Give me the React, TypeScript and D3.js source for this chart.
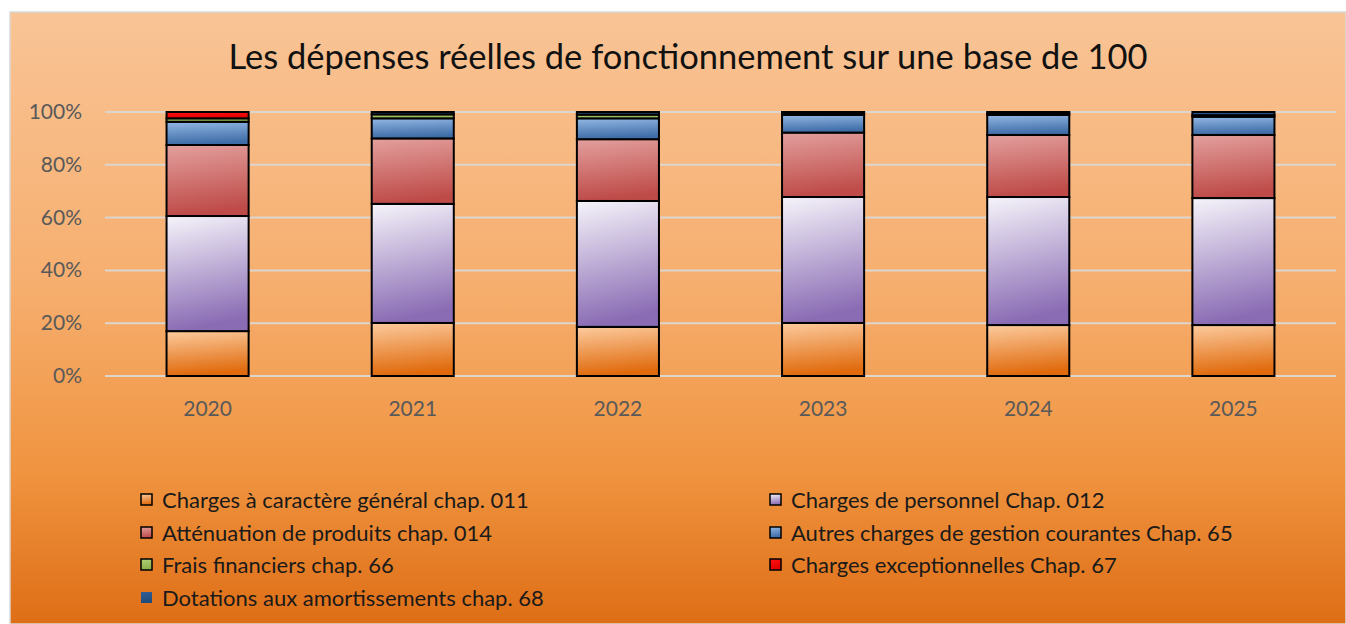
import React from "react";
import * as d3 from "d3";

const years = ["2020", "2021", "2022", "2023", "2024", "2025"];
const chap011 = [17.0, 20.1, 18.6, 20.1, 19.3, 19.3];
const chap012 = [43.6, 45.1, 47.7, 47.7, 48.5, 48.1];
const chap014 = [26.9, 24.8, 23.4, 24.4, 23.5, 23.9];
const chap65 = [8.8, 7.6, 7.9, 6.7, 7.6, 6.9];
const chap66 = [1.3, 1.5, 1.4, 0.7, 0.6, 0.6];
const chap67 = [2.4, 0, 0, 0, 0, 0];
const chap68 = [0, 0.9, 1.0, 0.4, 0.5, 1.2];
const yTicks = [0, 0.2, 0.4, 0.6, 0.8, 1.0];

const seriesKeys = ["c011", "c012", "c014", "c65", "c66", "c67", "c68"];
const seriesLabels = [
  "Charges à caractère général chap. 011",
  "Charges de personnel Chap. 012",
  "Atténuation de produits chap. 014",
  "Autres charges de gestion courantes Chap. 65",
  "Frais financiers chap. 66",
  "Charges exceptionnelles Chap. 67",
  "Dotations aux amortissements chap. 68",
];
const seriesGrad: [string, string][] = [
  ["#FCCB9E", "#E06A0C"],
  ["#F6F4FA", "#8A6CB4"],
  ["#E3A09E", "#BE4B48"],
  ["#93B8E4", "#3D6BA6"],
  ["#B4D07A", "#8AAE48"],
  ["#FF1010", "#E00000"],
  ["#2F5E96", "#1F4A7C"],
];

const W = 1346;
const H = 624;

export default function App() {
  const table = years.map((y, i) => ({
    year: y,
    c011: chap011[i],
    c012: chap012[i],
    c014: chap014[i],
    c65: chap65[i],
    c66: chap66[i],
    c67: chap67[i],
    c68: chap68[i],
  }));
  const stack = d3.stack<any>().keys(seriesKeys).offset(d3.stackOffsetExpand);
  const stacked = stack(table);

  const x = d3.scaleBand().domain(years).range([105, 1336]).paddingInner(0.6).paddingOuter(0.3);
  const y = d3.scaleLinear().domain([0, 1]).range([376, 112]);
  const pct = d3.format(".0%");

  const legendPos = [
    [141, 500],
    [770, 500],
    [141, 533],
    [770, 533],
    [141, 565],
    [770, 565],
    [141, 598],
  ];
  const font = "Lato, 'Open Sans', sans-serif";

  return (
    <svg width={W} height={H} style={{ position: "absolute", left: 0, top: 0 }} fontFamily={font}>
      <defs>
        <linearGradient id="bg" x1="0" y1="0" x2="0" y2="1">
          <stop offset="0" stopColor="#F9C496" />
          <stop offset="0.45" stopColor="#F6AE6E" />
          <stop offset="0.75" stopColor="#F09440" />
          <stop offset="1" stopColor="#DE6E16" />
        </linearGradient>
        {seriesGrad.map((g, i) => (
          <linearGradient key={i} id={`g${i}`} x1="0" y1="0" x2="0.15" y2="1">
            <stop offset="0" stopColor={g[0]} />
            <stop offset="1" stopColor={g[1]} />
          </linearGradient>
        ))}
      </defs>
      <rect x={0} y={0} width={W} height={H} fill="#ffffff" />
      <rect x={10} y={12} width={W - 10} height={H - 12} fill="url(#bg)" stroke="#D9D9D9" strokeWidth={1.5} />
      <text x={688} y={69} textAnchor="middle" fontSize={34.5} fill="#111">
        Les dépenses réelles de fonctionnement sur une base de 100
      </text>
      {yTicks.map((t) => (
        <g key={t}>
          <line x1={105} x2={1336} y1={y(t)} y2={y(t)} stroke="#DCD6CF" strokeWidth={2} />
          <text x={82} y={y(t) + 7} textAnchor="end" fontSize={21} fill="#595959">
            {pct(t)}
          </text>
        </g>
      ))}
      {stacked.map((s, si) => (
        <g key={s.key}>
          {s.map((d, i) => {
            const h = y(d[0]) - y(d[1]);
            if (h <= 0.01) return null;
            return (
              <rect
                key={i}
                x={x(years[i])}
                y={y(d[1])}
                width={x.bandwidth()}
                height={h}
                fill={`url(#g${si})`}
                stroke="#000"
                strokeWidth={2}
              />
            );
          })}
        </g>
      ))}
      {years.map((yr) => (
        <text key={yr} x={(x(yr) as number) + x.bandwidth() / 2} y={416} textAnchor="middle" fontSize={21} fill="#595959">
          {yr}
        </text>
      ))}
      {seriesLabels.map((lab, i) => (
        <g key={lab}>
          <rect
            x={legendPos[i][0]}
            y={legendPos[i][1] - 6}
            width={11}
            height={11}
            fill={`url(#g${i})`}
            stroke={i === 6 ? "none" : "#000"}
            strokeWidth={1.5}
          />
          <text x={legendPos[i][0] + 21} y={legendPos[i][1] + 8} fontSize={22} fill="#1a1a1a">
            {lab}
          </text>
        </g>
      ))}
    </svg>
  );
}
